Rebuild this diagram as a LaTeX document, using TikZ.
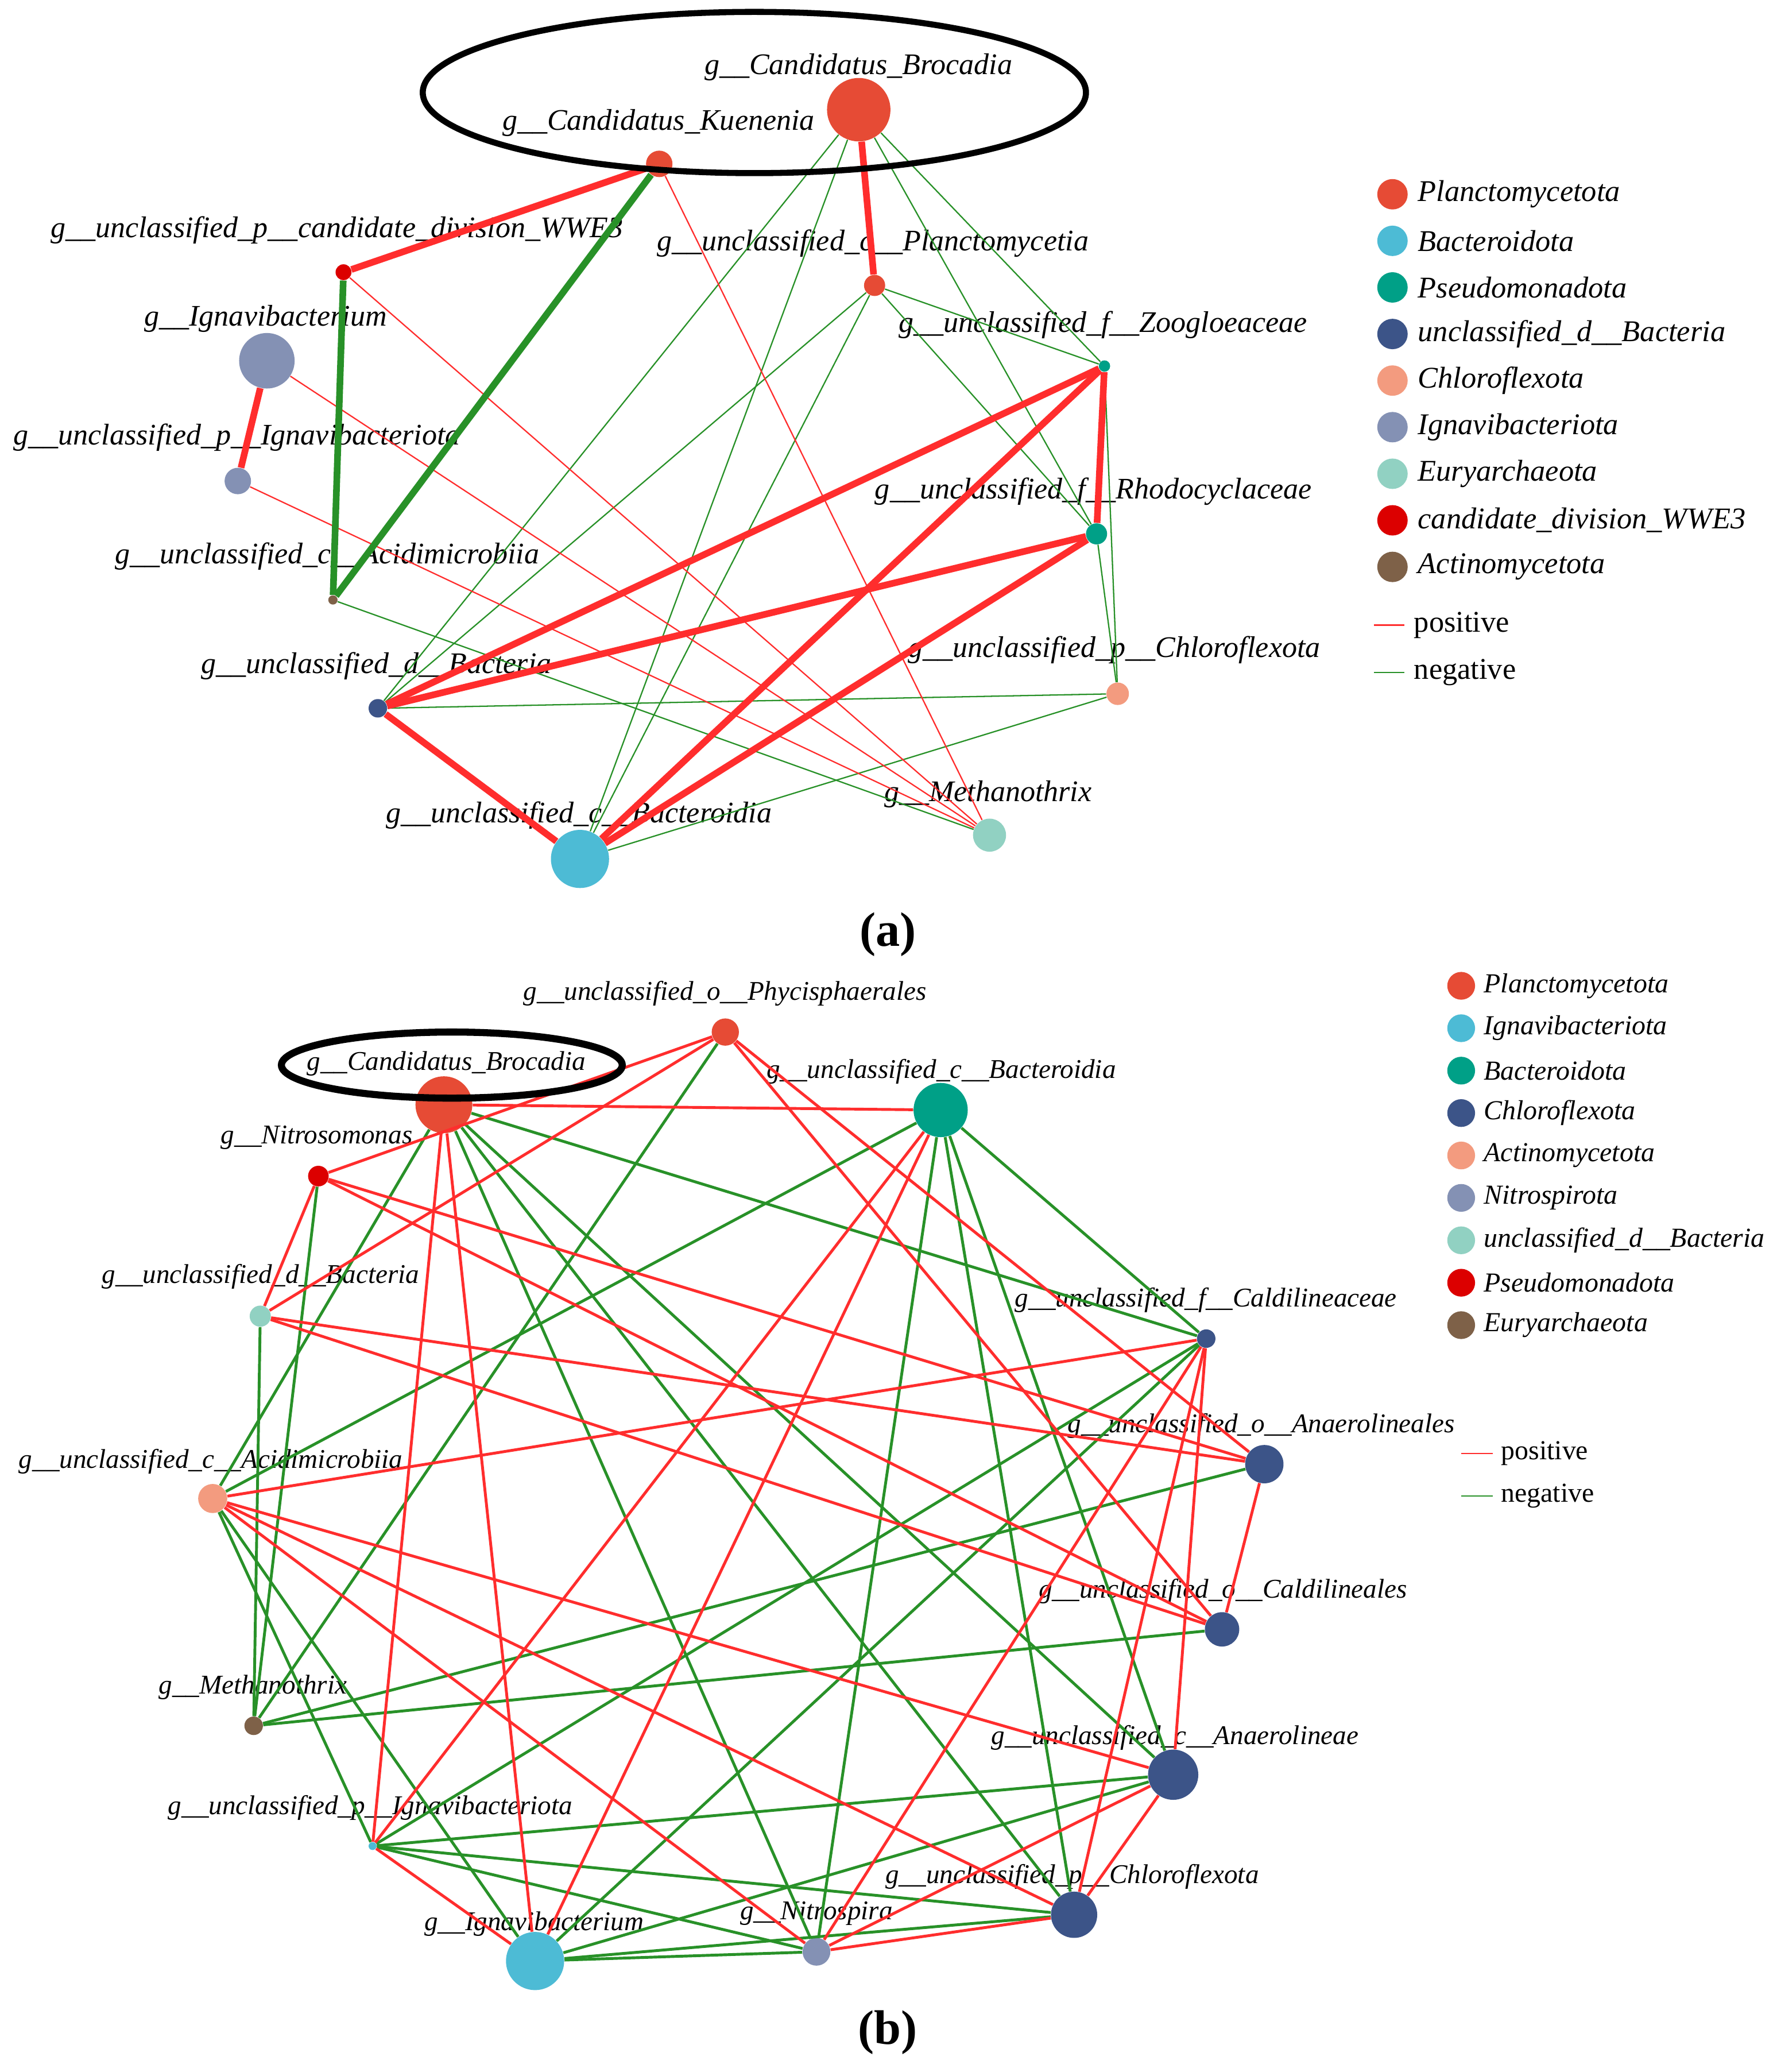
\documentclass[tikz,border=0pt]{standalone}
\usepackage{fontspec}
\setmainfont{Liberation Serif}
\definecolor{cRed}{HTML}{E64B35}
\definecolor{cSky}{HTML}{4DBBD5}
\definecolor{cTeal}{HTML}{00A087}
\definecolor{cNavy}{HTML}{3C5488}
\definecolor{cPeach}{HTML}{F39B7F}
\definecolor{cSlate}{HTML}{8491B4}
\definecolor{cMint}{HTML}{91D1C2}
\definecolor{cCrimson}{HTML}{DC0000}
\definecolor{cBrown}{HTML}{7E6148}
\definecolor{posred}{RGB}{255,45,45}
\definecolor{neggreen}{RGB}{40,145,40}
\begin{document}
\begin{tikzpicture}[x=0.023cm, y=-0.023cm,
    dot/.style={circle, inner sep=0pt, minimum size=#1*0.046cm},
    lbla/.style={anchor=west, inner sep=0pt, font=\fontsize{14.8}{16}\selectfont\itshape},
    lblb/.style={anchor=west, inner sep=0pt, font=\fontsize{13.4}{15}\selectfont\itshape},
    keya/.style={anchor=west, inner sep=0pt, font=\fontsize{14.9}{16}\selectfont},
    keyb/.style={anchor=west, inner sep=0pt, font=\fontsize{13.6}{15}\selectfont},
    thickpos/.style={draw=posred, line width=3.3pt},
    thickneg/.style={draw=neggreen, line width=3.3pt},
    thinpos/.style={draw=posred, line width=0.65pt},
    thinneg/.style={draw=neggreen, line width=0.65pt},
    bpos/.style={draw=posred, line width=1.4pt},
    bneg/.style={draw=neggreen, line width=1.4pt},
    ring/.style={draw=black, line width=3pt}]
    \useasboundingbox[fill=white] (0,0) rectangle (1345,1568);

    \node[dot=24, fill=cRed] (aBro) at (650,83) {};
    \node[dot=10, fill=cRed] (aKue) at (499,124) {};
    \node[dot=6, fill=cCrimson] (aWwe) at (260,206) {};
    \node[dot=21, fill=cSlate] (aIgn) at (202,273) {};
    \node[dot=10, fill=cSlate] (aPig) at (180,364) {};
    \node[dot=3.5, fill=cBrown] (aAci) at (252,454) {};
    \node[dot=7, fill=cNavy] (aDb) at (286,536) {};
    \node[dot=22, fill=cSky] (aBac) at (439,650) {};
    \node[dot=12.5, fill=cMint] (aMet) at (749,632) {};
    \node[dot=8.5, fill=cPeach] (aPch) at (846,525) {};
    \node[dot=8, fill=cTeal] (aRho) at (830,404) {};
    \node[dot=4.3, fill=cTeal] (aZoo) at (836,277) {};
    \node[dot=8, fill=cRed] (aPla) at (662,216) {};

    \node[lbla] (aBroL) at (533,51) {g\_\_Candidatus\_Brocadia};
    \node[lbla] (aKueL) at (380,93) {g\_\_Candidatus\_Kuenenia};
    \node[lbla] (aWweL) at (38,174) {g\_\_unclassified\_p\_\_candidate\_division\_WWE3};
    \node[lbla] (aPlaL) at (497,184) {g\_\_unclassified\_c\_\_Planctomycetia};
    \node[lbla] (aIgnL) at (109,241) {g\_\_Ignavibacterium};
    \node[lbla] (aZooL) at (680,246) {g\_\_unclassified\_f\_\_Zoogloeaceae};
    \node[lbla] (aPigL) at (10,331) {g\_\_unclassified\_p\_\_Ignavibacteriota};
    \node[lbla] (aRhoL) at (662,372) {g\_\_unclassified\_f\_\_Rhodocyclaceae};
    \node[lbla] (aAciL) at (87,421) {g\_\_unclassified\_c\_\_Acidimicrobiia};
    \node[lbla] (aPchL) at (687,492) {g\_\_unclassified\_p\_\_Chloroflexota};
    \node[lbla] (aDbL) at (152,504) {g\_\_unclassified\_d\_\_Bacteria};
    \node[lbla] (aMetL) at (669,601) {g\_\_Methanothrix};
    \node[lbla] (aBacL) at (292,617) {g\_\_unclassified\_c\_\_Bacteroidia};

    \foreach \u/\v in {aBro/aDb, aBro/aBac, aBro/aZoo, aBro/aRho, aPla/aZoo, aPla/aRho, aPla/aDb,
        aPla/aBac, aDb/aPch, aBac/aPch, aRho/aPch, aZoo/aPch, aAci/aMet}
    {
        \draw[thinneg] (\u) -- (\v);
    }
    \foreach \u/\v in {aKue/aMet, aWwe/aMet, aIgn/aMet, aPig/aMet}
    {
        \draw[thinpos] (\u) -- (\v);
    }
    \foreach \u/\v in {aKue/aAci, aWwe/aAci}
    {
        \draw[thickneg] (\u) -- (\v);
    }
    \foreach \u/\v in {aKue/aWwe, aIgn/aPig, aBro/aPla, aZoo/aRho, aZoo/aDb, aZoo/aBac, aRho/aDb,
        aRho/aBac, aDb/aBac}
    {
        \draw[thickpos] (\u) -- (\v);
    }
    \draw[ring] (571,70) ellipse [x radius=251, y radius=61];

    \foreach \c/\t [count=\i] in {cRed/Planctomycetota, cSky/Bacteroidota, cTeal/Pseudomonadota,
        cNavy/unclassified\_d\_\_Bacteria, cPeach/Chloroflexota, cSlate/Ignavibacteriota,
        cMint/Euryarchaeota, cCrimson/candidate\_division\_WWE3, cBrown/Actinomycetota}
    {
        \node[dot=11.5, fill=\c] (ka\i) at (1054,{147+35.25*(\i-1)}) {};
        \node[keya, font=\fontsize{14.9}{16}\selectfont\itshape] (kat\i) at (1073,{147+35.25*(\i-1)}) {\t};
    }
    \draw[thinpos] (1040,473) -- (1063,473);
    \node[keya] (kaPos) at (1070,473) {positive};
    \draw[thinneg] (1040,509) -- (1063,509);
    \node[keya] (kaNeg) at (1070,509) {negative};
    \node[font=\fontsize{24}{26}\selectfont\bfseries] (capA) at (672,707) {(a)};

    \node[dot=21.5, fill=cRed] (bBro) at (336,836) {};
    \node[dot=10.3, fill=cRed] (bPhy) at (549,781) {};
    \node[dot=20.5, fill=cTeal] (bBac) at (712,840) {};
    \node[dot=7.8, fill=cCrimson] (bNso) at (241,890) {};
    \node[dot=8, fill=cMint] (bDb) at (197,996) {};
    \node[dot=11, fill=cPeach] (bAci) at (161,1134) {};
    \node[dot=7, fill=cBrown] (bMet) at (192,1306) {};
    \node[dot=3, fill=cSky] (bPig) at (282,1397) {};
    \node[dot=22, fill=cSky] (bIgn) at (405,1484) {};
    \node[dot=10.5, fill=cSlate] (bNsp) at (618,1477) {};
    \node[dot=17.5, fill=cNavy] (bPch) at (813,1449) {};
    \node[dot=19, fill=cNavy] (bCan) at (888,1343) {};
    \node[dot=13, fill=cNavy] (bOca) at (925,1233) {};
    \node[dot=14.5, fill=cNavy] (bOan) at (957,1108) {};
    \node[dot=7, fill=cNavy] (bFca) at (913,1013) {};

    \node[lblb] (bPhyL) at (396,752) {g\_\_unclassified\_o\_\_Phycisphaerales};
    \node[lblb] (bBroL) at (232,805) {g\_\_Candidatus\_Brocadia};
    \node[lblb] (bBacL) at (580,811) {g\_\_unclassified\_c\_\_Bacteroidia};
    \node[lblb] (bNsoL) at (167,861) {g\_\_Nitrosomonas};
    \node[lblb] (bDbL) at (77,966) {g\_\_unclassified\_d\_\_Bacteria};
    \node[lblb] (bFcaL) at (768,984) {g\_\_unclassified\_f\_\_Caldilineaceae};
    \node[lblb] (bOanL) at (808,1079) {g\_\_unclassified\_o\_\_Anaerolineales};
    \node[lblb] (bAciL) at (14,1106) {g\_\_unclassified\_c\_\_Acidimicrobiia};
    \node[lblb] (bOcaL) at (786,1204) {g\_\_unclassified\_o\_\_Caldilineales};
    \node[lblb] (bMetL) at (120,1277) {g\_\_Methanothrix};
    \node[lblb] (bCanL) at (750,1315) {g\_\_unclassified\_c\_\_Anaerolineae};
    \node[lblb] (bPigL) at (127,1368) {g\_\_unclassified\_p\_\_Ignavibacteriota};
    \node[lblb] (bPchL) at (670,1420) {g\_\_unclassified\_p\_\_Chloroflexota};
    \node[lblb] (bNspL) at (560,1448) {g\_\_Nitrospira};
    \node[lblb] (bIgnL) at (321,1456) {g\_\_Ignavibacterium};

    \foreach \u/\v in {bBro/bAci, bBro/bFca, bBro/bCan, bBro/bPch, bBro/bNsp, bPhy/bMet, bBac/bAci,
        bBac/bNsp, bBac/bPch, bBac/bCan, bBac/bFca, bNso/bMet, bDb/bMet, bAci/bPig, bAci/bIgn,
        bMet/bOca, bMet/bOan, bPig/bFca, bPig/bCan, bPig/bPch, bPig/bNsp, bIgn/bFca, bIgn/bCan,
        bIgn/bNsp, bIgn/bPch}
    {
        \draw[bneg] (\u) -- (\v);
    }
    \foreach \u/\v in {bBro/bBac, bBro/bPig, bBro/bIgn, bPhy/bNso, bPhy/bDb, bPhy/bOan, bPhy/bOca,
        bBac/bPig, bBac/bIgn, bNso/bDb, bNso/bOan, bNso/bOca, bDb/bOan, bDb/bOca, bAci/bFca,
        bAci/bCan, bAci/bPch, bAci/bNsp, bPig/bIgn, bNsp/bPch, bNsp/bCan, bNsp/bFca, bPch/bCan,
        bPch/bFca, bCan/bFca, bOan/bOca}
    {
        \draw[bpos] (\u) -- (\v);
    }
    \draw[ring, line width=3.5pt] (342,806) ellipse [x radius=129, y radius=25];

    \foreach \c/\t [count=\i] in {cRed/Planctomycetota, cSky/Ignavibacteriota, cTeal/Bacteroidota,
        cNavy/Chloroflexota, cPeach/Actinomycetota, cSlate/Nitrospirota,
        cMint/unclassified\_d\_\_Bacteria, cCrimson/Pseudomonadota, cBrown/Euryarchaeota}
    {
        \node[dot=10.5, fill=\c] (kb\i) at (1106,{746+32.1*(\i-1)}) {};
        \node[keyb, font=\fontsize{13.6}{15}\selectfont\itshape] (kbt\i) at (1123,{746+32.1*(\i-1)}) {\t};
    }
    \draw[thinpos] (1106,1100) -- (1130,1100);
    \node[keyb] (kbPos) at (1136,1100) {positive};
    \draw[thinneg] (1106,1132) -- (1130,1132);
    \node[keyb] (kbNeg) at (1136,1132) {negative};
    \node[font=\fontsize{24}{26}\selectfont\bfseries] (capB) at (672,1538) {(b)};
\end{tikzpicture}
\end{document}
